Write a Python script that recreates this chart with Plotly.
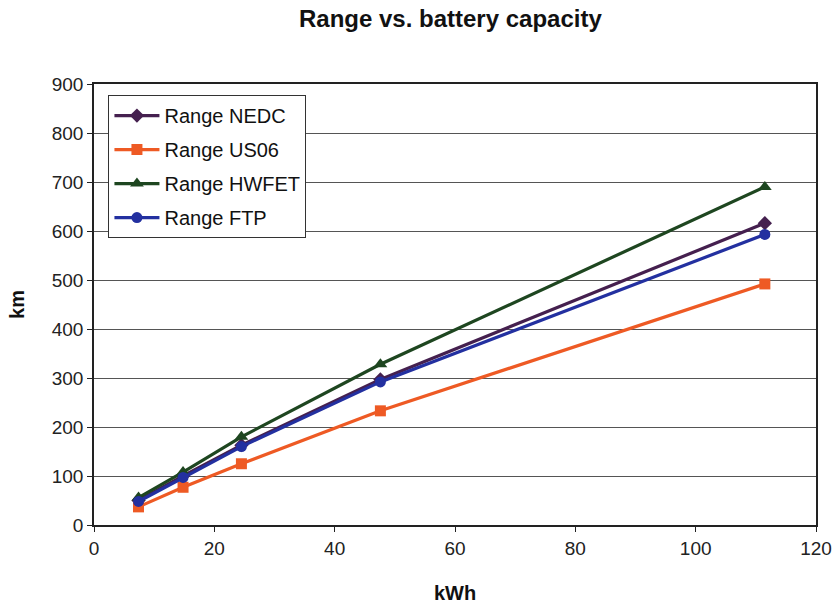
import plotly.graph_objects as go

capacity_kwh = [7.4, 14.8, 24.5, 47.6, 111.5]
range_nedc = [50, 100, 163, 297, 616]
range_us06 = [37, 77, 125, 233, 492]
range_hwfet = [56, 108, 180, 328, 690]
range_ftp = [48, 97, 160, 292, 593]

series_names = ["Range NEDC", "Range US06", "Range HWFET", "Range FTP"]
series_values = [range_nedc, range_us06, range_hwfet, range_ftp]
series_colors = ["#45204F", "#EE5A24", "#1E4620", "#2330A0"]
series_symbols = ["diamond", "square", "triangle-up", "circle"]

fig = go.Figure()
for name, vals, col, sym in zip(series_names, series_values, series_colors, series_symbols):
    fig.add_trace(go.Scatter(
        x=capacity_kwh, y=vals, name=name, mode="lines+markers",
        line=dict(color=col, width=3.2),
        marker=dict(symbol=sym, size=11 if sym != "triangle-up" else 12, color=col),
        legendgroup=name,
    ))

font_family = "Liberation Sans, Arial, sans-serif"
fig.update_layout(
    width=834, height=605,
    margin=dict(l=94, r=18, t=84, b=80),
    paper_bgcolor="white", plot_bgcolor="white",
    font=dict(family=font_family, size=19, color="#222222"),
    title=dict(text="<b>Range vs. battery capacity</b>", x=0.54, xanchor="center",
               y=0.97, yanchor="middle", font=dict(size=24, color="#111111")),
    xaxis=dict(range=[0, 120], dtick=20, showline=True, linecolor="#222222", linewidth=1.5,
               mirror=True, ticks="outside", ticklen=5, tickcolor="#222222",
               showgrid=False, zeroline=False, automargin=False,
               tickfont=dict(size=19, color="#222222"),
               title=dict(text="<b>kWh</b>", font=dict(size=20, color="#111111"), standoff=28)),
    yaxis=dict(range=[0, 900], dtick=100, showline=True, linecolor="#222222", linewidth=1.5,
               mirror=True, ticks="outside", ticklen=5, tickcolor="#222222",
               showgrid=True, gridcolor="#555555", gridwidth=1, zeroline=False,
               automargin=False,
               tickfont=dict(size=19, color="#222222"),
               title=dict(text="<b>km</b>", font=dict(size=20, color="#111111"), standoff=22)),
    legend=dict(x=0.02, y=0.975, xanchor="left", yanchor="top",
                bgcolor="white", bordercolor="#333333", borderwidth=1,
                font=dict(size=20, color="#111111"), tracegroupgap=5,
                itemwidth=45),
    showlegend=True,
)

fig.write_html("out.html")
